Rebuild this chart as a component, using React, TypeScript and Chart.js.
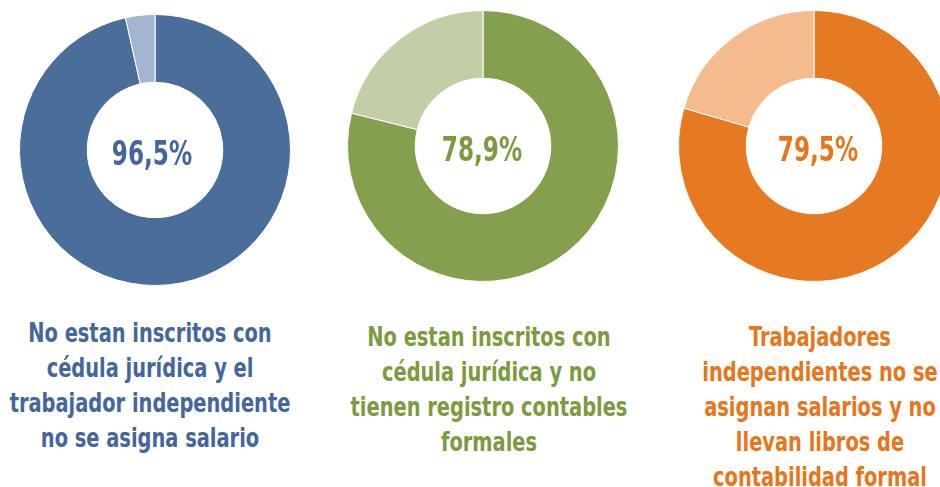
import React, { useEffect, useRef } from "react";
import { Chart, registerables } from "chart.js";

Chart.register(...registerables);

const categories = ["Sí", "No"];
const blueValues = [96.5, 3.5];
const greenValues = [78.9, 21.1];
const orangeValues = [79.5, 20.5];
const centerLabels = ["96,5%", "78,9%", "79,5%"];
const captionLines = [
  ["No estan inscritos con", "cédula jurídica y el", "trabajador independiente", "no se asigna salario"],
  ["No estan inscritos con", "cédula jurídica y no", "tienen registro contables", "formales"],
  ["Trabajadores", "independientes no se", "asignan salarios y no", "llevan libros de", "contabilidad formal"],
];

const FONT = '"DejaVu Sans Condensed", "Liberation Sans Narrow", sans-serif';

type Spec = {
  values: number[];
  colors: string[];
  textColor: string;
  cx: number;
  cy: number;
  r: number;
  label: string;
  labelCx: number;
  labelCy: number;
  lines: string[];
  captionCx: number;
  captionTop: number;
};

const specs: Spec[] = [
  {
    values: blueValues,
    colors: ["#4A6D9A", "#A4B6CF"],
    textColor: "#44669A",
    cx: 155, cy: 149.5, r: 136,
    label: centerLabels[0], labelCx: 152, labelCy: 154,
    lines: captionLines[0], captionCx: 149.5, captionTop: 316,
  },
  {
    values: greenValues,
    colors: ["#84A04F", "#C2CEA8"],
    textColor: "#7D9A40",
    cx: 483, cy: 146, r: 136,
    label: centerLabels[1], labelCx: 482, labelCy: 150,
    lines: captionLines[1], captionCx: 488.5, captionTop: 320,
  },
  {
    values: orangeValues,
    colors: ["#E67A22", "#F4BB8F"],
    textColor: "#E6761C",
    cx: 814, cy: 146, r: 136,
    label: centerLabels[2], labelCx: 818, labelCy: 150,
    lines: captionLines[2], captionCx: 819.5, captionTop: 320,
  },
];

function Donut({ spec }: { spec: Spec }) {
  const ref = useRef<HTMLCanvasElement | null>(null);
  useEffect(() => {
    if (!ref.current) return;
    const chart = new Chart(ref.current, {
      type: "doughnut",
      data: {
        labels: categories,
        datasets: [
          {
            data: spec.values,
            backgroundColor: spec.colors,
            borderColor: "#ffffff",
            borderWidth: 1,
          },
        ],
      },
      options: {
        responsive: false,
        animation: false,
        cutout: "50%",
        layout: { padding: 0 },
        plugins: { legend: { display: false }, tooltip: { enabled: false } },
      },
    });
    return () => chart.destroy();
  }, [spec]);
  const size = spec.r * 2;
  return (
    <canvas
      ref={ref}
      width={size}
      height={size}
      style={{ position: "absolute", left: spec.cx - spec.r, top: spec.cy - spec.r, width: size, height: size }}
    />
  );
}

export default function App() {
  return (
    <div
      style={{
        position: "fixed",
        left: 0,
        top: 0,
        width: 940,
        height: 487,
        overflow: "hidden",
        background: "#ffffff",
        fontFamily: FONT,
      }}
    >
      {specs.map((s, i) => (
        <React.Fragment key={i}>
          <Donut spec={s} />
          <div
            style={{
              position: "absolute",
              left: s.labelCx - 80,
              top: s.labelCy - 20,
              width: 160,
              height: 40,
              lineHeight: "40px",
              textAlign: "center",
              fontSize: 33,
              fontWeight: "bold",
              color: s.textColor,
              transform: "scaleX(0.78)",
              transformOrigin: "50% 50%",
            }}
          >
            {s.label}
          </div>
          <div
            style={{
              position: "absolute",
              left: s.captionCx - 170,
              top: s.captionTop,
              width: 340,
              textAlign: "center",
              fontSize: 26,
              lineHeight: "35px",
              fontWeight: "bold",
              color: s.textColor,
              whiteSpace: "nowrap",
              transform: "scaleX(0.83)",
              transformOrigin: "50% 0",
            }}
          >
            {s.lines.map((l, j) => (
              <div key={j}>{l}</div>
            ))}
          </div>
        </React.Fragment>
      ))}
    </div>
  );
}
